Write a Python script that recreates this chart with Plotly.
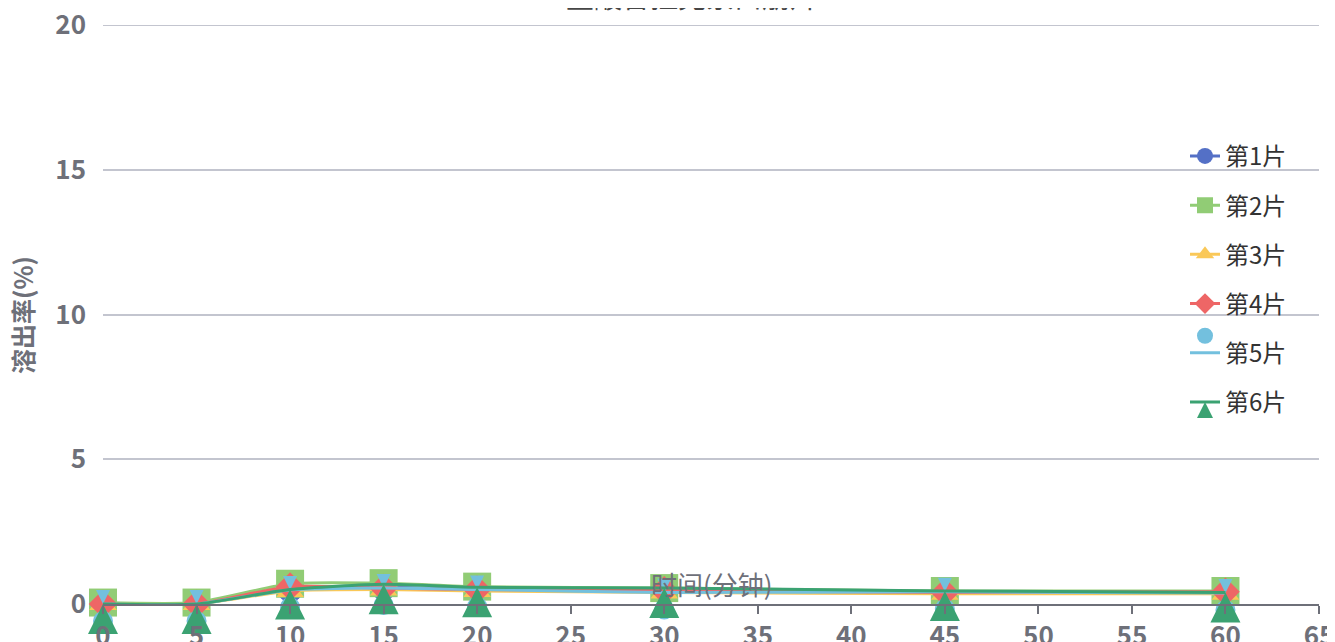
import plotly.graph_objects as go

title_text = "盐酸普拉克索口崩片"
x_title = "时间(分钟)"
y_title = "溶出率(%)"
times = [0, 5, 10, 15, 20, 30, 45, 60]
names = ["第1片", "第2片", "第3片", "第4片", "第5片", "第6片"]
s1 = [0, 0, 0.52, 0.58, 0.50, 0.45, 0.40, 0.40]
s2 = [0.05, 0.05, 0.70, 0.72, 0.60, 0.55, 0.45, 0.45]
s3 = [0, 0, 0.45, 0.50, 0.45, 0.40, 0.35, 0.35]
s4 = [0, 0, 0.60, 0.55, 0.50, 0.47, 0.40, 0.42]
s5 = [0, 0, 0.48, 0.55, 0.50, 0.40, 0.42, 0.38]
s6 = [0, 0, 0.50, 0.68, 0.58, 0.55, 0.45, 0.40]
series = [s1, s2, s3, s4, s5, s6]
colors = ["#5470c6", "#91cc75", "#fac858", "#ee6666", "#73c0de", "#3ba272"]
symbols = ["circle", "square", "triangle-up", "diamond", "circle", "arrow-up"]
sizes = [26, 28, 24, 22, 20, 30]

FONT = "Noto Sans CJK SC"
W, H = 1327, 634          # page body has an 8px margin
L, R, T, B = 95, 16, 17, 38
PW, PH = W - L - R, H - T - B

fig = go.Figure()
for i, (nm, ys) in enumerate(zip(names, series)):
    if i == 4:
        # pin: tip part at the data point
        fig.add_trace(go.Scatter(
            x=times, y=ys, mode="markers", showlegend=False, cliponaxis=False,
            marker=dict(symbol="arrow-down", size=14, color=colors[i]),
            hoverinfo="skip"))
        fig.add_trace(go.Scatter(
            x=times, y=ys, mode="lines+markers", name=nm, legendgroup=nm, cliponaxis=False,
            line=dict(color=colors[i], width=3, shape="spline", smoothing=0.6),
            marker=dict(symbol="circle", size=20, color=colors[i], angle=0, standoff=17)))
    else:
        fig.add_trace(go.Scatter(
            x=times, y=ys, mode="lines+markers", name=nm, legendgroup=nm, cliponaxis=False,
            line=dict(color=colors[i], width=3, shape="spline", smoothing=0.6),
            marker=dict(symbol=symbols[i], size=sizes[i], color=colors[i])))

tick_font = dict(family=FONT, size=26, color="#6e7079", weight="bold")
fig.update_layout(
    width=W, height=H,
    margin=dict(l=L, r=R, t=T, b=B, autoexpand=False),
    paper_bgcolor="white", plot_bgcolor="white",
    font=dict(family=FONT),
    showlegend=True,
    legend=dict(x=(1185 - 8 - L) / PW, xanchor="left", y=0.812, yanchor="top",
                font=dict(family=FONT, size=24, color="#333333"),
                tracegroupgap=15, bgcolor="rgba(0,0,0,0)"),
    xaxis=dict(range=[0, 65], tick0=0, dtick=5, showgrid=False, zeroline=False,
               showline=True, linecolor="#6e7079", linewidth=2,
               ticks="outside", ticklen=8, tickcolor="#6e7079", tickwidth=2,
               tickfont=tick_font, automargin=False, ticklabeloverflow="allow"),
    yaxis=dict(range=[0, 20], tick0=0, dtick=5, showgrid=True, gridcolor="#c3c5cf",
               gridwidth=2, zeroline=False, showline=False, ticks="",
               ticklabelstandoff=16, tickfont=tick_font, automargin=False,
               ticklabeloverflow="allow"),
    shapes=[dict(type="line", xref="paper", yref="y", x0=0, x1=1, y0=20, y1=20,
                 line=dict(color="#c3c5cf", width=2), layer="below")],
    annotations=[
        dict(text=title_text, xref="paper", yref="paper", x=(692 - 8 - L) / PW, y=1.0,
             xanchor="center", yanchor="bottom", yshift=7, showarrow=False,
             font=dict(family=FONT, size=28, color="#464646")),
        dict(text=x_title, xref="paper", yref="paper", x=(712 - 8 - L) / PW,
             y=(604 - 583) / PH, xanchor="center", yanchor="middle", showarrow=False,
             font=dict(family=FONT, size=26, color="#6e7079")),
        dict(text=y_title, xref="paper", yref="paper", x=(22 - 8 - L) / PW,
             y=(604 - 315) / PH, xanchor="center", yanchor="middle", textangle=-90,
             showarrow=False,
             font=dict(family=FONT, size=25, color="#6e7079", weight="bold")),
    ],
)
fig.write_html("out.html")
